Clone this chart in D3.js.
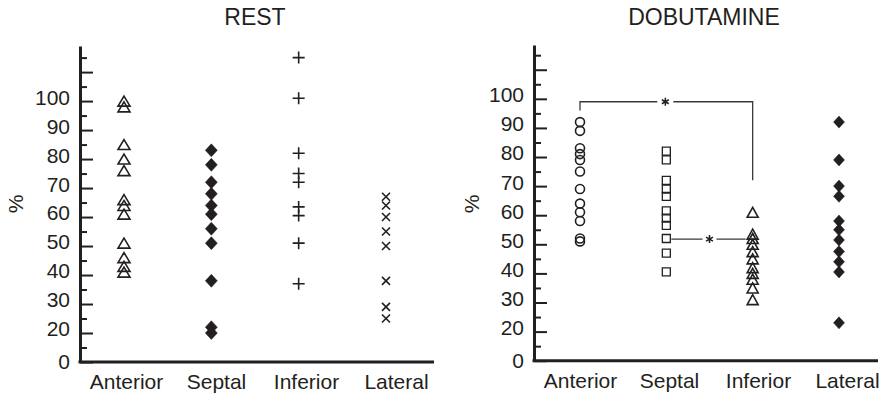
<!DOCTYPE html>
<html><head><meta charset="utf-8">
<script src="https://cdn.jsdelivr.net/npm/d3@7"></script>
<style>body{margin:0;background:#fff}svg{display:block}text{font-family:"Liberation Sans",Arial,sans-serif;fill:#231f20}</style>
</head><body>
<svg id="chart" width="885" height="398"></svg>
<script>
// ---- data ----
const categories = ["Anterior", "Septal", "Inferior", "Lateral"];
const restAnterior = [100, 98, 85, 80, 76, 66, 64, 61, 51, 46, 43, 41];
const restSeptal   = [83, 78, 72, 68, 64, 61, 56, 51, 38, 22, 20];
const restInferior = [115, 101, 82, 75, 72, 63.5, 60.5, 51, 37];
const restLateral  = [67, 64, 60, 55, 50, 38, 29, 25];
const dobAnterior  = [92, 89, 83, 81, 79, 75, 69, 64, 61, 58, 52, 51];
const dobSeptal    = [82, 79, 72, 69, 66.5, 61.5, 59, 56.5, 52, 47, 40.5];
const dobInferior  = [61, 53.5, 52, 50, 47.5, 45, 42, 40, 38, 35, 31];
const dobLateral   = [92, 79, 70, 66.5, 58, 55, 51.5, 47.5, 44, 40.5, 23];
const yMajorTicks  = [10, 20, 30, 40, 50, 60, 70, 80, 90, 100, 110];
const yTickLabels  = ["0", "20", "30", "40", "50", "60", "70", "80", "90", "100", ""];
const yMinorTicks  = [15, 25, 35, 45, 55, 65, 75, 85, 95, 105, 115];
const restMarkers  = ["triangle", "diamond", "plus", "times"];
const dobMarkers   = ["circle", "square", "triangle2", "diamond2"];
const dobBrackets  = [
  {from: "Anterior", to: "Inferior", star: "Septal", level: 99, legFrom: 96, legTo: 72},
  {from: "Septal", to: "Inferior", star: null, level: 51.8, legFrom: null, legTo: null}
];

const panels = [
  {title: "REST", series: [restAnterior, restSeptal, restInferior, restLateral], markers: restMarkers,
   axisX: 80, xEnd: 434, yBottom: 362, yTop: 46, yMax: 119, pt: [124, 386], lab: [126, 396], titleX: 255, pctX: 15, brackets: []},
  {title: "DOBUTAMINE", series: [dobAnterior, dobSeptal, dobInferior, dobLateral], markers: dobMarkers,
   axisX: 534, xEnd: 878, yBottom: 360.7, yTop: 45, yMax: 118.5, pt: [580, 839], lab: [580, 847], titleX: 704, pctX: 471, brackets: dobBrackets}
];

function shape(type) {
  const p = d3.path();
  switch (type) {
    case "triangle": p.moveTo(0, -5); p.lineTo(6, 5); p.lineTo(-6, 5); p.closePath(); break;
    case "triangle2": p.moveTo(0, -5); p.lineTo(5.5, 5); p.lineTo(-5.5, 5); p.closePath(); break;
    case "diamond": p.moveTo(0, -6.5); p.lineTo(6, 0); p.lineTo(0, 6.5); p.lineTo(-6, 0); p.closePath(); break;
    case "diamond2": p.moveTo(0, -6); p.lineTo(5.5, 0); p.lineTo(0, 6); p.lineTo(-5.5, 0); p.closePath(); break;
    case "plus": p.moveTo(-6, 0); p.lineTo(6, 0); p.moveTo(0, -6); p.lineTo(0, 6); break;
    case "times": p.moveTo(-4, -4); p.lineTo(4, 4); p.moveTo(-4, 4); p.lineTo(4, -4); break;
    case "circle": p.moveTo(4.5, 0); p.arc(0, 0, 4.5, 0, 2 * Math.PI); break;
    case "square": p.rect(-4, -4, 8, 8); break;
    case "star":
      for (let k = 0; k < 3; k++) {
        const a = Math.PI / 2 + k * Math.PI / 3, r = 4;
        p.moveTo(-r * Math.cos(a), -r * Math.sin(a)); p.lineTo(r * Math.cos(a), r * Math.sin(a));
      }
      break;
  }
  return p.toString();
}
const filled = t => t === "diamond" || t === "diamond2";

const svg = d3.select("#chart");

panels.forEach(P => {
  const g = svg.append("g");
  const y = d3.scaleLinear().domain([10, P.yMax]).range([P.yBottom, P.yTop]);
  const xp = d3.scalePoint().domain(categories).range(P.pt);
  const xl = d3.scalePoint().domain(categories).range(P.lab);

  // y axis majors
  const ya = g.append("g").attr("transform", `translate(${P.axisX},0)`)
    .call(d3.axisLeft(y).tickValues(yMajorTicks).tickFormat((d, i) => yTickLabels[i])
      .tickSizeInner(-13).tickSizeOuter(0).tickPadding(10));
  ya.select(".domain").attr("stroke", "#231f20").attr("stroke-width", 3);
  ya.selectAll(".tick line").attr("stroke", "#231f20").attr("stroke-width", 2);
  ya.selectAll(".tick text").attr("font-size", 21).attr("font-family", null).attr("fill", "#231f20")
    .attr("dy", d => d === 10 ? "0.33em" : "0.14em");
  // minor ticks
  const ym = g.append("g").attr("transform", `translate(${P.axisX},0)`)
    .call(d3.axisLeft(y).tickValues(yMinorTicks).tickFormat("").tickSizeInner(-7).tickSizeOuter(0));
  ym.select(".domain").remove();
  ym.selectAll(".tick line").attr("stroke", "#231f20").attr("stroke-width", 2);

  // x axis line
  g.append("line").attr("x1", P.axisX - 1.5).attr("x2", P.xEnd)
    .attr("y1", y(10)).attr("y2", y(10)).attr("stroke", "#231f20").attr("stroke-width", 3);
  const xa = g.append("g").attr("transform", `translate(0,${y(10)})`)
    .call(d3.axisBottom(xl).tickSize(0).tickPadding(12));
  xa.select(".domain").remove();
  xa.selectAll(".tick text").attr("font-size", 21).attr("font-family", null).attr("fill", "#231f20");

  // title
  g.append("text").attr("x", P.titleX).attr("y", 25).attr("text-anchor", "middle")
    .attr("font-size", 23).text(P.title);
  // % label
  g.append("text").attr("transform", `translate(${P.pctX},204) rotate(-90)`)
    .attr("text-anchor", "middle").attr("dominant-baseline", "central")
    .attr("font-size", 21).text("%");

  // brackets
  P.brackets.forEach(b => {
    const yl = y(b.level);
    const x1 = xp(b.from) + (b.legFrom == null ? 5 : 0);
    const x2 = xp(b.to) - (b.legTo == null ? 7 : 0);
    const sx = b.star ? xp(b.star) - 1 : (xp(b.from) + xp(b.to)) / 2;
    const gap = b.star ? 8 : 7;
    const bp = d3.path();
    if (b.legFrom != null) { bp.moveTo(x1, y(b.legFrom)); bp.lineTo(x1, yl); } else bp.moveTo(x1, yl);
    bp.lineTo(sx - gap, yl);
    bp.moveTo(sx + gap, yl); bp.lineTo(x2, yl);
    if (b.legTo != null) bp.lineTo(x2, y(b.legTo));
    g.append("path").attr("d", bp.toString()).attr("fill", "none")
      .attr("stroke", "#3a3a3a").attr("stroke-width", 1.3);
    g.append("path").attr("d", shape("star")).attr("transform", `translate(${sx},${yl})`)
      .attr("fill", "none").attr("stroke", "#231f20").attr("stroke-width", 1.5);
  });

  // markers
  categories.forEach((c, i) => {
    const t = P.markers[i];
    g.append("g").selectAll("path").data(P.series[i]).join("path")
      .attr("d", shape(t))
      .attr("transform", d => `translate(${xp(c)},${y(d)})`)
      .attr("fill", filled(t) ? "#231f20" : "none")
      .attr("stroke", "#231f20")
      .attr("stroke-width", filled(t) ? 0.5 : (t === "square" ? 1.3 : 1.6));
  });
});
</script>
</body></html>
